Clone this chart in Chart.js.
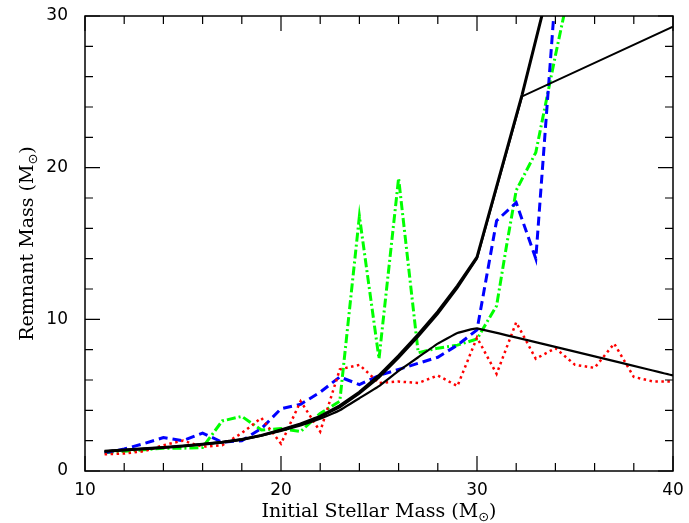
<!DOCTYPE html>
<html lang="en">
<head>
	<meta charset="UTF-8" />
	<title>Remnant Mass</title>
	<script src="https://cdn.jsdelivr.net/npm/chart.js@4"></script>
	<style>
		html, body { margin: 0; padding: 0; background: #fff; }
		#wrap { width: 689px; height: 523px; }
	</style>
</head>
<body>
	<div id="wrap"><canvas id="chart" width="689" height="523"></canvas></div>
	<script>
		// initial masses (Msun) for the smooth model curves
		const curveMass = [11, 12, 13, 14, 15, 16, 17, 18, 19, 20, 21, 22, 23, 24, 25, 26, 27, 28, 29, 30];
		const upperThick = [1.3, 1.38, 1.46, 1.55, 1.65, 1.77, 1.9, 2.08, 2.35, 2.7, 3.1, 3.6, 4.3, 5.2, 6.3, 7.6, 9.0, 10.5, 12.2, 14.1];
		const upperThin = [1.3, 1.38, 1.46, 1.55, 1.65, 1.77, 1.9, 2.08, 2.35, 2.7, 3.08, 3.55, 4.2, 5.1, 6.15, 7.45, 8.85, 10.35, 12.05, 14.0];
		const lowerCurve = [1.3, 1.38, 1.46, 1.55, 1.65, 1.77, 1.9, 2.08, 2.33, 2.65, 3.0, 3.45, 4.0, 4.8, 5.6, 6.6, 7.5, 8.4, 9.1, 9.4];
		// straight continuations past 30 Msun
		const thickTailMass = [32.3, 33.5];
		const thickTail = [24.8, 31.0];
		const thinTailMass = [32.3, 40];
		const thinTail = [24.7, 29.3];
		const lowerTailMass = [40];
		const lowerTail = [6.3];

		// simulation results
		const redMass = [11, 12, 13, 14, 15, 16, 17, 18, 19, 20, 21, 22, 23, 24, 25, 26, 27, 28, 29, 30, 31, 32, 33, 34, 35, 36, 37, 38, 39, 40];
		const redRemnant = [1.1, 1.15, 1.3, 1.7, 2.0, 1.6, 1.7, 2.5, 3.5, 1.8, 4.6, 2.6, 6.7, 7.0, 5.8, 5.9, 5.8, 6.3, 5.6, 8.8, 6.4, 9.8, 7.4, 8.1, 7.0, 6.8, 8.4, 6.2, 5.9, 5.9];
		const blueMass = [11, 12, 13, 14, 15, 16, 17, 18, 19, 20, 21, 22, 23, 24, 25, 26, 27, 28, 29, 30, 31, 32, 33, 34];
		const blueRemnant = [1.2, 1.45, 1.8, 2.2, 2.0, 2.5, 1.9, 2.0, 2.8, 4.1, 4.4, 5.2, 6.2, 5.7, 6.3, 6.7, 7.1, 7.5, 8.3, 9.3, 16.5, 17.7, 14.0, 31.5];
		const greenMass = [11, 12, 13, 14, 15, 16, 17, 18, 19, 20, 21, 22, 23, 24, 25, 26, 27, 28, 29, 30, 31, 31.5, 32, 33, 34, 35];
		const greenRemnant = [1.2, 1.3, 1.4, 1.5, 1.5, 1.55, 3.3, 3.6, 2.7, 2.8, 2.6, 3.8, 4.6, 16.8, 7.4, 19.3, 7.8, 8.1, 8.3, 8.7, 10.9, 14.8, 18.5, 21.0, 27.4, 33.5];

		const xTicks = [10, 20, 30, 40];
		const yTicks = [0, 10, 20, 30];

		function pts(xs, ys) {
			return xs.map((x, i) => ({ x: x, y: ys[i] }));
		}

		const PLOT_LEFT = 85;
		const PLOT_BOTTOM_SPACE = 52;
		const titleFont = '19px "DejaVu Serif"';
		const tickFont = { family: 'DejaVu Sans', size: 17 };

		// frame with inward ticks on all four sides, plus axis titles
		const framePlugin = {
			id: 'frame',
			afterDraw(chart) {
				const { ctx, chartArea: a, scales } = chart;
				const xs = scales.x, ys = scales.y;
				ctx.save();
				ctx.strokeStyle = '#000';
				ctx.lineWidth = 1.5;
				ctx.strokeRect(a.left, a.top, a.right - a.left, a.bottom - a.top);
				ctx.lineWidth = 1.2;
				ctx.beginPath();
				for (let v = 10; v <= 40; v += 2) {
					const px = xs.getPixelForValue(v);
					const len = v % 10 === 0 ? 15 : 8;
					ctx.moveTo(px, a.bottom); ctx.lineTo(px, a.bottom - len);
					ctx.moveTo(px, a.top); ctx.lineTo(px, a.top + len);
				}
				for (let v = 0; v <= 30; v += 2) {
					const py = ys.getPixelForValue(v);
					const len = v % 10 === 0 ? 15 : 8;
					ctx.moveTo(a.left, py); ctx.lineTo(a.left + len, py);
					ctx.moveTo(a.right, py); ctx.lineTo(a.right - len, py);
				}
				ctx.stroke();

				// axis titles with subscript solar symbol
				ctx.fillStyle = '#000';
				ctx.textBaseline = 'alphabetic';
				function drawTitle(main, cx, cy) {
					ctx.font = titleFont;
					const w1 = ctx.measureText(main).width;
					ctx.font = '13px "DejaVu Sans"';
					const w2 = ctx.measureText('\u2299').width;
					ctx.font = titleFont;
					const w3 = ctx.measureText(')').width;
					let x = cx - (w1 + w2 + w3) / 2;
					ctx.textAlign = 'left';
					ctx.fillText(main, x, cy);
					x += w1;
					ctx.font = '13px "DejaVu Sans"';
					ctx.fillText('\u2299', x, cy + 4);
					x += w2;
					ctx.font = titleFont;
					ctx.fillText(')', x, cy);
				}
				drawTitle('Initial Stellar Mass (M', (a.left + a.right) / 2, 517);
				ctx.translate(33, (a.top + a.bottom) / 2);
				ctx.rotate(-Math.PI / 2);
				drawTitle('Remnant Mass (M', 0, 0);
				ctx.restore();
			}
		};

		const blackBase = { borderColor: '#000', pointRadius: 0, fill: false, showLine: true, tension: 0 };

		new Chart(document.getElementById('chart'), {
			type: 'scatter',
			data: {
				datasets: [
					{ ...blackBase, label: 'upper', data: pts(curveMass.concat(thickTailMass), upperThick.concat(thickTail)), borderWidth: 3 },
					{ ...blackBase, label: 'upper thin', data: pts(curveMass.concat(thinTailMass), upperThin.concat(thinTail)), borderWidth: 2 },
					{ ...blackBase, label: 'lower', data: pts(curveMass.concat(lowerTailMass), lowerCurve.concat(lowerTail)), borderWidth: 2.2, tension: 0.08 },
					{ label: 'red', data: pts(redMass, redRemnant), showLine: true, pointRadius: 0, borderColor: '#ff0000', borderWidth: 2.5, borderDash: [2.5, 3.5] },
					{ label: 'blue', data: pts(blueMass, blueRemnant), showLine: true, pointRadius: 0, borderColor: '#0000ff', borderWidth: 3, borderDash: [9, 5] },
					{ label: 'green', data: pts(greenMass, greenRemnant), showLine: true, pointRadius: 0, borderColor: '#00ff00', borderWidth: 3, borderDash: [9, 3, 2, 3] },
				]
			},
			options: {
				responsive: false,
				animation: false,
				layout: { padding: { top: 16, right: 16, left: 0, bottom: 0 } },
				plugins: { legend: { display: false }, tooltip: { enabled: false } },
				scales: {
					x: {
						type: 'linear',
						min: 10, max: 40,
						afterBuildTicks: s => { s.ticks = xTicks.map(v => ({ value: v })); },
						afterFit: s => {
							s.height = PLOT_BOTTOM_SPACE;
							s.paddingLeft = 0;
							s.paddingRight = 0;
						},
						ticks: { color: '#000', font: tickFont, padding: 9, maxRotation: 0 },
						grid: { display: false, drawTicks: false },
						border: { display: false }
					},
					y: {
						type: 'linear',
						min: 0, max: 30,
						afterBuildTicks: s => { s.ticks = yTicks.map(v => ({ value: v })); },
						afterFit: s => {
							s.width = PLOT_LEFT;
							s.paddingTop = 0;
							s.paddingBottom = 0;
						},
						ticks: { color: '#000', font: tickFont, padding: 17 },
						grid: { display: false, drawTicks: false },
						border: { display: false }
					}
				}
			},
			plugins: [framePlugin]
		});
	</script>
</body>
</html>
